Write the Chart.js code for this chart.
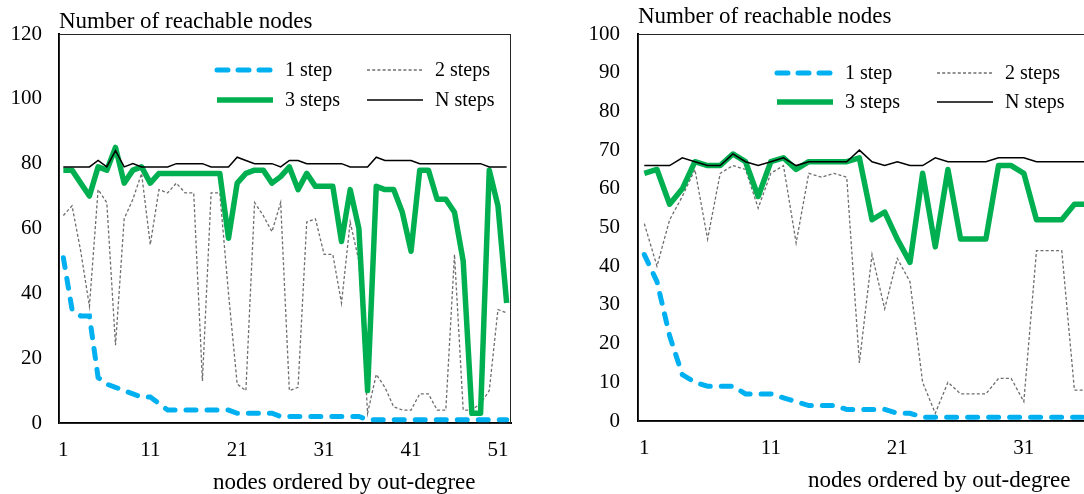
<!DOCTYPE html>
<html lang="en">
<head>
<meta charset="UTF-8">
<title>Number of reachable nodes</title>
<script src="https://cdn.jsdelivr.net/npm/chart.js@4.4.1/dist/chart.umd.min.js"></script>
<style>
  html, body { margin: 0; padding: 0; background: #fff; }
  #wrap { position: relative; width: 1084px; height: 494px; overflow: hidden; }
  canvas { position: absolute; top: 0; }
  #chartA { left: 0; }
  #chartB { left: 580px; }
</style>
</head>
<body>
<div id="wrap">
  <canvas id="chartA" width="540" height="494"></canvas>
  <canvas id="chartB" width="540" height="494"></canvas>
</div>
<script>
// left panel: 52 nodes
const nodesA = Array.from({ length: 52 }, (_, i) => i + 1);
const oneStepA = [51, 35, 33, 33, 14, 12, 11, 10, 9, 8, 8, 6, 4, 4, 4, 4, 4, 4, 4, 4,
  3, 3, 3, 3, 3, 2, 2, 2, 2, 2, 2, 2, 2, 2, 2, 1, 1, 1, 1, 1,
  1, 1, 1, 1, 1, 1, 1, 1, 1, 1, 1, 1];
const twoStepA = [64, 67, 53, 36, 72, 68, 24, 63, 69, 77, 55, 72, 71, 74, 71, 71, 13, 71, 71, 40,
  12, 10, 68, 64, 59, 68, 10, 11, 62, 63, 52, 52, 37, 62, 50, 3, 15, 11, 5, 4,
  4, 9, 9, 4, 4, 52, 4, 4, 6, 10, 35, 34];
const threeStepA = [78, 78, 74, 70, 79, 78, 85, 74, 78, 79, 74, 77, 77, 77, 77, 77, 77, 77, 77, 57,
  74, 77, 78, 78, 74, 76, 79, 72, 77, 73, 73, 73, 56, 72, 60, 10, 73, 72, 72, 65,
  53, 78, 78, 69, 69, 65, 50, 3, 3, 78, 67, 37];
const nStepA = [79, 79, 79, 79, 81, 79, 84, 79, 80, 79, 79, 79, 79, 80, 80, 80, 80, 79, 79, 79,
  82, 81, 80, 80, 80, 79, 81, 81, 80, 80, 80, 80, 80, 79, 79, 79, 82, 81, 81, 81,
  81, 80, 80, 80, 80, 80, 80, 80, 80, 79, 79, 79];

// right panel: only the first 36 nodes are visible
const nodesB = Array.from({ length: 36 }, (_, i) => i + 1);
const oneStepB = [43, 36, 22, 12, 10, 9, 9, 9, 7, 7, 7, 6, 5, 4, 4, 4, 3, 3, 3, 3,
  2, 2, 1, 1, 1, 1, 1, 1, 1, 1, 1, 1, 1, 1, 1, 1];
const twoStepB = [51, 40, 52, 58, 65, 47, 64, 66, 65, 55, 64, 66, 46, 64, 63, 64, 63, 15, 43, 29,
  42, 36, 10, 2, 10, 7, 7, 7, 11, 11, 5, 44, 44, 44, 8, 8];
const threeStepB = [64, 65, 56, 60, 67, 66, 66, 69, 67, 58, 67, 68, 65, 67, 67, 67, 67, 68, 52, 54,
  47, 41, 64, 45, 65, 47, 47, 47, 66, 66, 64, 52, 52, 52, 56, 56];
const nStepB = [66, 66, 66, 68, 67, 66, 66, 69, 67, 66, 67, 68, 66, 67, 67, 67, 67, 70, 67, 66,
  67, 66, 66, 68, 67, 67, 67, 67, 68, 68, 68, 67, 67, 67, 67, 67];

const seriesNames = ['1 step', '2 steps', '3 steps', 'N steps'];
const yTitle = 'Number of reachable nodes';
const xTitle = 'nodes ordered by out-degree';

const FONT = '"Liberation Serif", "Times New Roman", serif';

// frame, legend and the two axis titles, drawn like the Excel original
const decor = {
  id: 'decor',
  beforeDatasetsDraw(chart, args, o) {
    const { ctx, chartArea: a } = chart;
    ctx.save();
    ctx.strokeStyle = '#262626';
    ctx.lineWidth = 1;
    ctx.strokeRect(a.left + 0.5, a.top + 0.5, a.right - a.left - 1, a.bottom - a.top);
    ctx.restore();
  },
  afterDraw(chart, args, o) {
    const { ctx, chartArea: a } = chart;
    ctx.save();
    ctx.fillStyle = '#000';
    ctx.textAlign = 'left';
    ctx.textBaseline = 'alphabetic';
    ctx.font = '23px ' + FONT;
    ctx.fillText(yTitle, a.left, o.yTitleY);
    ctx.fillText(xTitle, a.left + o.xTitleX, o.xTitleY);

    ctx.font = '20px ' + FONT;
    ctx.textBaseline = 'middle';
    chart.data.datasets.forEach((ds, i) => {
      const col = i % 2, row = Math.floor(i / 2);
      const x0 = a.left + o.legX[col];
      const y = a.top + o.legY[row];
      ctx.save();
      ctx.strokeStyle = ds.borderColor;
      ctx.lineWidth = ds.borderWidth;
      ctx.lineCap = ds.borderCapStyle || 'butt';
      ctx.setLineDash(ds.legendDash || ds.borderDash || []);
      ctx.beginPath();
      ctx.moveTo(x0, y);
      ctx.lineTo(x0 + o.legLen, y);
      ctx.stroke();
      ctx.restore();
      ctx.fillText(ds.label, x0 + o.legLen + 12, y + 1);
    });
    ctx.restore();
  }
};

function makeChart(id, labels, s1, s2, s3, sN, g) {
  const ctx = document.getElementById(id).getContext('2d');
  return new Chart(ctx, {
    type: 'line',
    data: {
      labels: labels,
      datasets: [
        { label: seriesNames[0], data: s1, borderColor: '#00b0f0', borderWidth: 5,
          borderDash: [10, 11], legendDash: [11, 10], borderCapStyle: 'round', order: 3 },
        { label: seriesNames[1], data: s2, borderColor: '#6e6e6e', borderWidth: 1.3,
          borderDash: [3, 2.2], order: 2 },
        { label: seriesNames[2], data: s3, borderColor: '#00b050', borderWidth: 5.5,
          borderJoinStyle: 'round', order: 1 },
        { label: seriesNames[3], data: sN, borderColor: '#000000', borderWidth: 1.5, order: 0 }
      ]
    },
    options: {
      responsive: false,
      animation: false,
      layout: { padding: { left: 0, top: 34, right: g.padRight, bottom: 0 } },
      elements: { point: { radius: 0 }, line: { tension: 0 } },
      plugins: {
        legend: { display: false },
        tooltip: { enabled: false },
        decor: g.decor
      },
      scales: {
        x: {
          type: 'category',
          offset: true,
          grid: { display: false, drawTicks: false },
          border: { display: true, color: '#000', width: 2 },
          ticks: {
            autoSkip: false, maxRotation: 0, padding: 15, color: '#000',
            font: { family: FONT, size: 21 },
            callback: (v, i) => (i % 10 === 0 ? labels[i] : '')
          },
          afterFit: s => { s.height = g.xHeight; }
        },
        y: {
          min: 0, max: g.yMax,
          grid: { display: false, drawTicks: false },
          border: { display: true, color: '#000', width: 2 },
          ticks: { stepSize: g.yStep, padding: g.yPad, color: '#000',
            font: { family: FONT, size: 21 } },
          afterFit: s => { s.width = g.yWidth; }
        }
      }
    },
    plugins: [decor]
  });
}

makeChart('chartA', nodesA, oneStepA, twoStepA, threeStepA, nStepA, {
  yMax: 120, yStep: 20, yWidth: 59, yPad: 17, xHeight: 71, padRight: 29,
  decor: { yTitleY: 28, xTitleX: 154, xTitleY: 489, legX: [158, 308], legY: [36, 66], legLen: 56 }
});

makeChart('chartB', nodesB, oneStepB, twoStepB, threeStepB, nStepB, {
  yMax: 100, yStep: 10, yWidth: 58, yPad: 18, xHeight: 73, padRight: 26.6,
  decor: { yTitleY: 23, xTitleX: 170, xTitleY: 487, legX: [139, 299], legY: [39, 68], legLen: 56 }
});
</script>
</body>
</html>
